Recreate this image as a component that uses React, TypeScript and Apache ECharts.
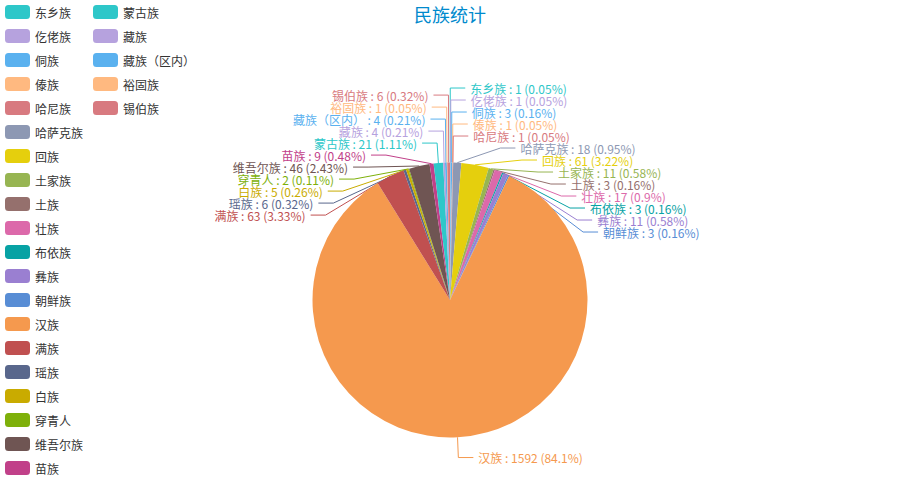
import React, { useEffect, useRef } from "react";
import * as echarts from "echarts";

const titleText = "民族统计";
const categories = [
  "东乡族", "仡佬族", "侗族", "傣族", "哈尼族", "哈萨克族", "回族", "土家族", "土族", "壮族",
  "布依族", "彝族", "朝鲜族", "汉族", "满族", "瑶族", "白族", "穿青人", "维吾尔族", "苗族",
  "蒙古族", "藏族", "藏族（区内）", "裕固族", "锡伯族",
];
const values = [
  1, 1, 3, 1, 1, 18, 61, 11, 3, 17,
  3, 11, 3, 1592, 63, 6, 5, 2, 46, 9,
  21, 4, 4, 1, 6,
];
const palette = [
  "#2ec7c9", "#b6a2de", "#5ab1ef", "#ffb980", "#d87a80",
  "#8d98b3", "#e5cf0d", "#97b552", "#95706d", "#dc69aa",
  "#07a2a4", "#9a7fd1", "#588dd5", "#f5994e", "#c05050",
  "#59678c", "#c9ab00", "#7eb00a", "#6f5553", "#c14089",
];

const CENTER = ["50%", "60%"];
const RADIUS_FRAC = 0.55;
const LINE_LEN = 15;
const LINE_LEN2 = 15;
const LABEL_DIST = 5;
const LABEL_H = 12;

type L = {
  i: number; x: number; y: number; height: number; dir: number;
  pts: number[][];
};

// classic (ECharts 4 style) outside-label overlap avoidance, computed from the data
function computeLayouts(w: number, h: number): L[] {
  const cx = w * 0.5, cy = h * 0.6;
  const r = (Math.min(w, h) / 2) * RADIUS_FRAC;
  const total = values.reduce((a, b) => a + b, 0);
  let acc = 0;
  const items: L[] = values.map((v, i) => {
    const mid = ((acc + v / 2) / total) * Math.PI * 2;
    acc += v;
    const dx = Math.sin(mid), dy = -Math.cos(mid);
    const x1 = cx + r * dx, y1 = cy + r * dy;
    const x2 = cx + (r + LINE_LEN) * dx, y2 = cy + (r + LINE_LEN) * dy;
    const dir = dx < 0 ? -1 : 1;
    const x3 = x2 + dir * LINE_LEN2;
    return { i, x: x3 + dir * LABEL_DIST, y: y2, height: LABEL_H, dir, pts: [[x1, y1], [x2, y2], [x3, y2]] };
  });

  const adjust = (list: L[], dir: number) => {
    list.sort((a, b) => a.y - b.y);
    const shiftUp = (end: number, delta: number) => {
      for (let j = end; j >= 0; j--) {
        if (list[j].y - delta < 0) break;
        list[j].y -= delta;
        if (j > 0 && list[j].y > list[j - 1].y + list[j - 1].height) break;
      }
    };
    const shiftDown = (start: number, end: number, delta: number) => {
      for (let j = start; j < end; j++) {
        if (list[j].y + delta > h) break;
        list[j].y += delta;
        if (j > start && j + 1 < end && list[j + 1].y > list[j].y + list[j].height) {
          shiftUp(j, delta / 2);
          return;
        }
      }
      shiftUp(end - 1, delta / 2);
    };
    let lastY = 0;
    const n = list.length;
    for (let i = 0; i < n; i++) {
      const delta = list[i].y - lastY;
      if (delta < 0) shiftDown(i, n, -delta);
      lastY = list[i].y + list[i].height;
    }
    if (h - lastY < 0 && n) shiftUp(n - 1, lastY - h);
    const up: L[] = [], down: L[] = [];
    list.forEach((it) => (it.y >= cy ? down : up).push(it));
    const changeX = (arr: L[], isDown: boolean) => {
      let last = isDown ? Number.MAX_VALUE : 0;
      for (const it of arr) {
        const dY = Math.abs(it.y - cy);
        const R = r + LINE_LEN + LINE_LEN2;
        let dX = dY < r + LINE_LEN ? Math.sqrt(R * R - dY * dY) : Math.abs(it.x - cx);
        if (isDown && dX >= last) dX = last - 10;
        if (!isDown && dX <= last) dX = last + 10;
        it.x = cx + dX * dir;
        last = dX;
      }
    };
    changeX(up, false);
    changeX(down, true);
  };

  const left = items.filter((it) => it.x < cx);
  const right = items.filter((it) => it.x >= cx);
  adjust(left, -1);
  adjust(right, 1);

  items.forEach((it) => {
    const dist = it.pts[1][0] - it.pts[2][0];
    it.pts[2][0] = it.x < cx ? it.x + LABEL_DIST : it.x - LABEL_DIST;
    it.pts[1][0] = it.pts[2][0] + dist;
    it.pts[1][1] = it.pts[2][1] = it.y;
  });
  return items;
}

export default function App() {
  const ref = useRef<HTMLDivElement>(null);
  useEffect(() => {
    if (!ref.current) return;
    const chart = echarts.init(ref.current, null, { renderer: "svg" });
    const layouts = computeLayouts(chart.getWidth(), chart.getHeight());
    const byIndex: Record<number, L> = {};
    layouts.forEach((l) => (byIndex[l.i] = l));
    chart.setOption({
      animation: false,
      color: palette,
      textStyle: { fontFamily: "'Microsoft YaHei', 'Noto Sans CJK SC', sans-serif" },
      title: {
        text: titleText,
        left: "center",
        top: 0,
        textStyle: { color: "#008acd", fontSize: 18, fontWeight: "normal" },
      },
      legend: {
        orient: "vertical",
        left: 0,
        top: 0,
        itemWidth: 25,
        itemHeight: 14,
        itemGap: 10,
        textStyle: { color: "#333", fontSize: 12 },
        data: categories,
      },
      series: [
        {
          type: "pie",
          radius: `${RADIUS_FRAC * 100}%`,
          center: CENTER,
          avoidLabelOverlap: false,
          data: categories.map((n, i) => ({ name: n, value: values[i] })),
          label: { formatter: "{b} : {c} ({d}%)", fontSize: 12, lineHeight: 12, color: "inherit" },
          labelLine: { length: LINE_LEN, length2: LINE_LEN2, lineStyle: { width: 1 } },
          labelLayout: (params: any) => {
            const l = byIndex[params.dataIndex];
            if (!l) return {};
            return {
              x: l.x,
              y: l.y,
              align: l.dir < 0 ? "right" : "left",
              verticalAlign: "middle",
              labelLinePoints: l.pts,
            };
          },
          itemStyle: { borderWidth: 0 },
        },
      ],
    });
    return () => chart.dispose();
  }, []);
  return (
    <div
      ref={ref}
      style={{ position: "absolute", left: 0, top: 0, width: 900, height: 500 }}
    />
  );
}
